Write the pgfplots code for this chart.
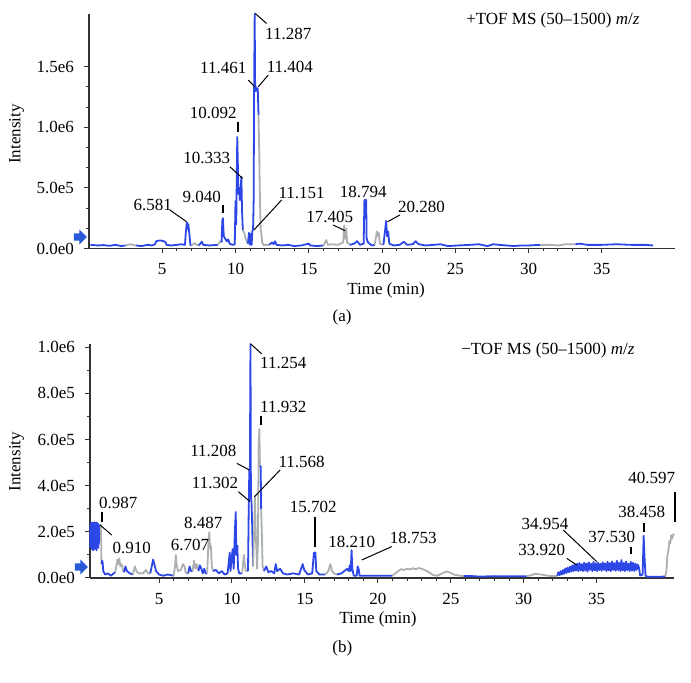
\documentclass[border=0pt]{standalone}
\usepackage{fontspec}
\setmainfont{Liberation Serif}
\usepackage{pgfplots}
\pgfplotsset{compat=1.18}
\usetikzlibrary{shapes.arrows}
\definecolor{trblue}{RGB}{45,70,230}
\definecolor{trgray}{RGB}{172,176,176}
\definecolor{arrblue}{RGB}{40,90,215}
\newcommand{\fs}{\fontsize{8.5}{10}\selectfont}
\tikzset{
  bl/.style={trblue, line width=0.9pt, line join=round},
  gr/.style={trgray, line width=0.9pt, line join=round},
  plab/.style={font=\fs, inner sep=0pt},
  plead/.style={black, line width=0.5pt},
  pdash/.style={black, line width=0.9pt},
  arrmark/.style={single arrow, fill=arrblue, draw=none, inner sep=1.6pt,
    single arrow head extend=1.9pt, minimum height=6.5pt, anchor=tip, xshift=-0.8pt},
}
\pgfplotsset{
  chrom/.style={
    scale only axis,
    anchor=south west,
    axis lines*=left,
    axis line style={line width=0.9pt, black!80},
    tick align=outside,
    major tick length=2.5pt,
    minor tick length=1.5pt,
    tick style={line width=0.5pt, black!80},
    xtick={5,10,...,35},
    minor x tick num=4,
    /pgf/number format/assume math mode=true,
    tick label style={font=\fs},
    label style={font=\fs},
    xticklabel style={yshift=-1.5pt},
    yticklabel style={xshift=-1.5pt},
    clip=false,
  },
}
\begin{document}
\begin{tikzpicture}
\path[use as bounding box] (0,0) rectangle (345.5pt,341.5pt);
% ---------------- (a) positive mode ----------------
\begin{axis}[chrom,
  at={(44.5pt,217.25pt)}, width=293pt, height=117.25pt,
  xmin=0, xmax=40, ymin=0, ymax=19.35,
  ytick={0,5,10,15}, yticklabels={0.0e0,5.0e5,1.0e6,1.5e6},
  minor y tick num=2,
  xlabel={Time (min)}, ylabel={Intensity},
  xlabel style={at={(axis description cs:0.507,-0.177)}, anchor=center},
  ylabel style={at={(axis description cs:-0.1234,0.488)}, anchor=center},
]
\addplot[bl] coordinates {(0.1,0.3)(0.6,0.25)(1.0,0.28)(1.4,0.22)(1.8,0.3)(2.2,0.2)(2.5,0.25)};
\addplot[gr] coordinates {(2.5,0.25)(2.8,0.35)(3.0,0.3)(3.2,0.25)};
\addplot[bl] coordinates {(3.2,0.25)(3.6,0.2)(4.0,0.3)(4.3,0.25)(4.5,0.35)(4.6,0.6)(4.8,0.66)(5.0,0.64)(5.2,0.55)(5.3,0.3)(5.6,0.25)(6.0,0.3)(6.3,0.35)(6.55,0.3)(6.62,1.5)(6.68,2.15)(6.72,1.6)(6.78,2.0)(6.85,1.2)(6.92,0.3)(7.0,0.25)};
\addplot[gr] coordinates {(7.0,0.25)(7.2,0.45)(7.35,0.3)(7.5,0.25)};
\addplot[bl] coordinates {(7.5,0.25)(7.7,0.55)(7.8,0.3)(8.2,0.25)(8.8,0.3)};
\addplot[gr] coordinates {(8.8,0.3)(8.95,0.6)(9.05,0.5)};
\addplot[bl] coordinates {(9.05,0.5)(9.1,2.3)(9.14,2.5)(9.2,1.0)(9.3,0.8)(9.4,0.6)(9.5,0.75)(9.6,0.4)(9.8,0.3)(9.95,0.35)(10.0,3.9)(10.05,2.0)(10.12,9.2)(10.16,7.0)(10.2,4.5)(10.25,5.0)(10.3,4.0)(10.4,5.9)(10.45,3.0)(10.5,1.5)};
\addplot[gr] coordinates {(10.5,1.5)(10.6,1.3)(10.7,0.8)(10.8,0.5)(10.85,0.4)};
\addplot[bl] coordinates {(10.85,0.4)(10.92,1.3)(10.98,0.3)(11.05,1.2)(11.1,0.3)(11.15,1.4)(11.2,1.6)(11.24,4.0)(11.27,13.0)(11.31,19.35)(11.34,13.3)(11.38,13.0)(11.42,13.3)(11.47,13.0)(11.52,13.2)(11.57,11.0)};
\addplot[gr] coordinates {(11.57,11.0)(11.62,8.0)(11.67,4.0)(11.72,1.5)(11.77,1.2)(11.82,0.5)(11.9,0.3)(12.3,0.3)};
\addplot[bl] coordinates {(12.3,0.3)(12.5,0.5)(12.6,0.35)(12.7,0.6)(12.8,0.3)(13.2,0.25)(13.6,0.3)(14.0,0.2)(14.5,0.25)(15.0,0.4)(15.1,0.25)(15.6,0.2)(16.0,0.25)};
\addplot[gr] coordinates {(16.0,0.25)(16.2,0.7)(16.3,0.3)(16.6,0.35)(17.0,0.3)(17.35,0.5)(17.42,1.9)(17.48,0.8)(17.55,1.65)(17.62,0.5)(17.8,0.3)};
\addplot[bl] coordinates {(17.8,0.3)(18.1,0.4)(18.3,0.6)(18.5,0.3)(18.75,0.4)(18.8,4.0)(18.92,4.0)(18.95,0.8)(19.05,0.5)(19.3,0.25)(19.5,0.3)};
\addplot[gr] coordinates {(19.5,0.3)(19.65,1.4)(19.72,1.0)(19.78,1.3)(19.85,0.4)(20.1,0.3)};
\addplot[bl] coordinates {(20.1,0.3)(20.28,2.27)(20.35,1.0)(20.42,1.4)(20.5,0.4)(20.8,0.25)(21.2,0.3)(21.5,0.55)(21.7,0.3)(22.1,0.35)(22.3,0.6)(22.5,0.35)(23,0.25)(23.5,0.3)(24.0,0.35)(24.5,0.2)(25.2,0.25)(26,0.3)(26.6,0.35)(27.2,0.2)(27.6,0.35)(28,0.3)(28.5,0.25)(29,0.2)(29.5,0.25)(30,0.25)(30.8,0.3)};
\addplot[gr] coordinates {(30.8,0.3)(31.5,0.3)(32,0.25)(32.5,0.35)(33.2,0.35)};
\addplot[bl] coordinates {(33.2,0.35)(33.5,0.4)(34,0.3)(35,0.3)(36,0.35)(37,0.3)(38,0.3)(38.5,0.25)};
% annotations
\node[plab] at (axis cs:4.36,3.59) {6.581};
\draw[plead] (axis cs:5.52,3.17) -- (axis cs:6.66,2.21);
\node[plab] at (axis cs:7.69,4.27) {9.040};
\draw[pdash] (axis cs:9.12,3.59) -- (axis cs:9.12,2.9);
\node[plab] at (axis cs:8.48,11.15) {10.092};
\draw[pdash] (axis cs:10.16,10.45) -- (axis cs:10.16,9.63);
\node[plab] at (axis cs:8.03,7.44) {10.333};
\draw[plead] (axis cs:9.62,6.74) -- (axis cs:10.48,5.79);
\node[plab] at (axis cs:14.51,4.55) {11.151};
\draw[plead] (axis cs:13.15,4.0) -- (axis cs:11.26,1.53);
\node[plab] at (axis cs:13.6,17.74) {11.287};
\draw[plead] (axis cs:11.34,19.4) -- (axis cs:12.12,18.57);
\node[plab] at (axis cs:9.16,14.86) {11.461};
\draw[plead] (axis cs:10.87,13.9) -- (axis cs:11.32,13.34);
\node[plab] at (axis cs:13.71,14.99) {11.404};
\draw[plead] (axis cs:12.23,14.3) -- (axis cs:11.55,13.34);
\node[plab] at (axis cs:16.44,2.62) {17.405};
\draw[plead] (axis cs:16.67,1.94) -- (axis cs:17.47,1.47);
\node[plab] at (axis cs:18.72,4.68) {18.794};
\node[plab] at (axis cs:22.7,3.45) {20.280};
\draw[plead] (axis cs:21.22,2.76) -- (axis cs:20.38,2.21);
\node[plab, anchor=east] at (axis description cs:0.940,0.974) {+TOF MS (50–1500) \textit{m}/\textit{z}};
\node[plab] at (axis description cs:0.432,-0.296) {(a)};
\node[arrmark] at (axis description cs:0,0.049) {};
\end{axis}
% ---------------- (b) negative mode ----------------
\begin{axis}[chrom,
  at={(45pt,52.5pt)}, width=292pt, height=117pt,
  xmin=0.27, xmax=40.3, ymin=0, ymax=10.14,
  ytick={0,2,4,6,8,10}, yticklabels={0.0e0,2.0e5,4.0e5,6.0e5,8.0e5,1.0e6},
  minor y tick num=1,
  xlabel={Time (min)}, ylabel={Intensity},
  xlabel style={at={(axis description cs:0.493,-0.179)}, anchor=center},
  ylabel style={at={(axis description cs:-0.1255,0.497)}, anchor=center},
]
\addplot[bl] coordinates {(0.28,1.3)(0.30,2.3)(0.32,1.4)(0.34,2.4)(0.36,1.3)(0.38,2.35)(0.40,1.25)(0.42,2.4)(0.44,1.35)(0.46,2.3)(0.48,1.2)(0.50,2.4)(0.52,1.3)(0.54,2.35)(0.56,1.4)(0.58,2.4)(0.60,1.25)(0.62,2.3)(0.64,1.35)(0.66,2.4)(0.68,1.3)(0.70,2.35)(0.72,1.2)(0.74,2.4)(0.76,1.35)(0.78,2.3)(0.80,1.4)(0.82,2.35)(0.84,1.3)(0.86,2.3)(0.88,1.5)(0.90,2.25)(0.92,1.6)(0.94,2.2)(0.96,1.8)(0.98,2.3)(1.00,2.3)};
\addplot[gr] coordinates {(1.0,2.3)(1.03,1.8)(1.05,0.8)(1.07,0.6)};
\addplot[bl] coordinates {(1.07,0.6)(1.1,0.75)(1.13,0.7)(1.18,0.3)(1.3,0.15)(1.5,0.2)(1.7,0.1)(1.9,0.2)(2.0,0.25)};
\addplot[gr] coordinates {(2.0,0.25)(2.15,0.8)(2.2,0.6)(2.28,0.85)(2.35,0.5)(2.45,0.6)(2.55,0.3)(2.6,0.25)};
\addplot[bl] coordinates {(2.6,0.25)(2.7,0.5)(2.8,0.3)(3.0,0.2)(3.2,0.15)};
\addplot[gr] coordinates {(3.2,0.15)(3.35,0.5)(3.45,0.3)(3.6,0.2)(3.9,0.2)(4.1,0.35)(4.25,0.2)(4.4,0.2)};
\addplot[bl] coordinates {(4.4,0.2)(4.5,0.5)(4.6,0.8)(4.7,0.55)(4.8,0.3)(5.0,0.15)(5.3,0.1)(5.6,0.15)(6.0,0.1)};
\addplot[gr] coordinates {(6.0,0.1)(6.1,0.5)(6.15,1.0)(6.2,0.6)(6.3,0.3)(6.5,0.35)(6.65,0.6)(6.75,0.5)(6.85,0.2)(7.0,0.2)};
\addplot[bl] coordinates {(7.0,0.2)(7.1,0.5)(7.2,0.3)(7.3,0.3)};
\addplot[gr] coordinates {(7.3,0.3)(7.4,0.75)(7.5,0.4)(7.6,0.6)(7.7,0.3)};
\addplot[bl] coordinates {(7.7,0.3)(7.8,0.55)(7.9,0.4)(8.0,0.2)(8.1,0.4)(8.2,0.2)(8.3,0.2)};
\addplot[gr] coordinates {(8.3,0.2)(8.38,1.4)(8.45,1.98)(8.5,1.3)(8.55,1.4)(8.62,0.5)(8.7,0.3)};
\addplot[bl] coordinates {(8.7,0.3)(8.9,0.35)(9.1,0.2)(9.3,0.3)(9.5,0.15)(9.7,0.2)(9.85,1.1)(9.9,0.3)(10.0,1.0)(10.05,1.25)(10.12,0.4)(10.2,2.0)(10.26,2.86)(10.3,1.0)(10.37,1.4)(10.42,0.4)(10.5,0.2)(10.7,0.2)};
\addplot[gr] coordinates {(10.7,0.2)(10.82,1.0)(10.88,0.6)(10.95,0.3)(11.05,0.3)(11.1,0.3)};
\addplot[bl] coordinates {(11.1,0.3)(11.15,3.0)(11.19,4.7)(11.22,3.5)(11.27,10.14)(11.3,3.5)(11.34,3.3)(11.38,2.5)(11.45,0.5)};
\addplot[gr] coordinates {(11.45,0.5)(11.52,2.0)(11.58,3.5)(11.63,1.9)(11.68,1.2)(11.72,0.4)(11.78,1.5)(11.83,5.7)(11.88,6.45)(11.92,4.8)};
\addplot[bl] coordinates {(11.92,4.8)(11.97,4.84)(12.0,3.0)};
\addplot[gr] coordinates {(12.0,3.0)(12.05,1.9)(12.1,0.5)(12.2,0.3)};
\addplot[bl] coordinates {(12.2,0.3)(12.35,0.5)(12.5,0.25)(12.7,0.3)(12.9,0.2)(13.0,0.6)(13.1,0.3)(13.3,0.4)(13.5,0.2)(13.8,0.15)(14.2,0.2)(14.6,0.15)(14.85,0.6)(14.95,0.35)(15.2,0.15)(15.5,0.2)(15.62,1.1)(15.72,1.1)(15.78,0.3)(16.0,0.15)(16.4,0.15)};
\addplot[gr] coordinates {(16.4,0.15)(16.6,0.3)(16.75,0.6)(16.85,0.3)(17.0,0.2)(17.2,0.15)};
\addplot[bl] coordinates {(17.2,0.15)(17.5,0.2)(17.9,0.4)(18.0,0.3)(18.08,0.55)(18.14,0.3)(18.2,1.2)(18.25,0.4)(18.35,0.1)(18.55,0.1)(18.62,0.5)(18.68,0.4)(18.75,0.1)(19.0,0.1)(20.0,0.1)(21.0,0.1)};
\addplot[gr] coordinates {(21.0,0.1)(21.2,0.2)(21.4,0.3)(21.6,0.38)(21.8,0.35)(22.0,0.4)(22.2,0.37)(22.4,0.42)(22.6,0.38)(22.8,0.43)(23.0,0.4)(23.2,0.35)(23.5,0.25)(23.8,0.12)(24.1,0.1)(24.4,0.2)(24.7,0.28)(24.9,0.25)(25.2,0.15)(25.6,0.1)(25.9,0.08)};
\addplot[bl] coordinates {(25.9,0.08)(26.5,0.08)(27,0.06)(28,0.08)(29,0.07)(30.2,0.08)};
\addplot[gr] coordinates {(30.2,0.08)(30.5,0.12)(30.8,0.18)(31.2,0.15)(31.6,0.1)(32.0,0.08)(32.3,0.08)};
\addplot[bl] coordinates {(32.30,0.10)(32.38,0.25)(32.46,0.12)(32.54,0.30)(32.62,0.15)(32.70,0.35)(32.78,0.18)(32.86,0.42)(32.94,0.22)(33.02,0.45)(33.10,0.25)(33.18,0.50)(33.26,0.28)(33.34,0.55)(33.42,0.30)(33.50,0.60)(33.58,0.32)(33.66,0.62)(33.74,0.30)(33.82,0.65)(33.90,0.33)(33.98,0.60)(34.06,0.30)(34.14,0.66)(34.22,0.32)(34.30,0.63)(34.38,0.28)(34.46,0.68)(34.54,0.35)(34.62,0.62)(34.70,0.30)(34.78,0.70)(34.86,0.33)(34.94,0.64)(35.02,0.30)(35.10,0.66)(35.18,0.34)(35.26,0.62)(35.34,0.31)(35.42,0.68)(35.50,0.35)(35.58,0.63)(35.66,0.30)(35.74,0.70)(35.82,0.33)(35.90,0.65)(35.98,0.30)(36.06,0.72)(36.14,0.35)(36.22,0.64)(36.30,0.31)(36.38,0.75)(36.46,0.34)(36.54,0.66)(36.62,0.30)(36.70,0.78)(36.78,0.33)(36.86,0.65)(36.94,0.30)(37.02,0.72)(37.10,0.34)(37.18,0.62)(37.26,0.30)(37.34,0.70)(37.42,0.32)(37.50,0.66)(37.58,0.30)(37.66,0.62)(37.74,0.35)(37.82,0.58)(37.90,0.45)(37.98,0.1)(38.15,0.15)(38.22,1.83)(38.28,0.9)(38.35,0.1)(38.5,0.05)(39.0,0.05)(39.6,0.06)(39.7,0.08)};
\addplot[gr] coordinates {(39.7,0.08)(39.78,0.3)(39.85,1.0)(39.92,1.2)(39.98,1.6)(40.05,1.5)(40.1,1.85)(40.18,1.7)(40.25,1.9)(40.3,1.85)};
% annotations
\node[plab] at (axis cs:2.21,3.24) {0.987};
\draw[pdash] (axis cs:1.08,2.87) -- (axis cs:1.08,2.44);
\node[plab] at (axis cs:3.13,1.29) {0.910};
\draw[plead] (axis cs:0.96,2.30) -- (axis cs:1.76,1.86);
\node[plab] at (axis cs:7.13,1.43) {6.707};
\node[plab] at (axis cs:8.04,2.37) {8.487};
\node[plab] at (axis cs:8.73,5.52) {11.208};
\draw[plead] (axis cs:10.33,4.97) -- (axis cs:11.19,4.68);
\node[plab] at (axis cs:8.84,4.13) {11.302};
\draw[plead] (axis cs:10.44,3.74) -- (axis cs:11.24,3.31);
\node[plab] at (axis cs:13.52,9.31) {11.254};
\draw[plead] (axis cs:11.29,10.14) -- (axis cs:12.04,9.71);
\node[plab] at (axis cs:13.52,7.43) {11.932};
\draw[pdash] (axis cs:11.97,7.02) -- (axis cs:11.97,6.63);
\node[plab] at (axis cs:14.78,5.04) {11.568};
\draw[plead] (axis cs:13.3,4.68) -- (axis cs:11.54,3.52);
\node[plab] at (axis cs:15.58,3.09) {15.702};
\draw[plead, line width=0.7pt] (axis cs:15.7,2.66) -- (axis cs:15.7,1.36);
\node[plab] at (axis cs:18.21,1.57) {18.210};
\node[plab] at (axis cs:22.43,1.72) {18.753};
\draw[plead] (axis cs:20.95,1.36) -- (axis cs:18.9,0.78);
\node[plab] at (axis cs:31.23,1.21) {33.920};
\draw[plead] (axis cs:32.95,0.85) -- (axis cs:33.63,0.56);
\node[plab] at (axis cs:31.46,2.34) {34.954};
\draw[plead] (axis cs:32.71,2.08) -- (axis cs:35.0,0.71);
\node[plab] at (axis cs:36.03,1.79) {37.530};
\draw[pdash] (axis cs:37.35,1.36) -- (axis cs:37.35,1.04);
\node[plab] at (axis cs:38.09,2.87) {38.458};
\draw[pdash] (axis cs:38.25,2.37) -- (axis cs:38.25,2.0);
\node[plab] at (axis cs:38.77,4.32) {40.597};
\draw[plead, line width=0.7pt] (axis cs:40.37,3.74) -- (axis cs:40.37,2.44);
\node[plab, anchor=east] at (axis description cs:0.933,0.971) {−TOF MS (50–1500) \textit{m}/\textit{z}};
\node[plab] at (axis description cs:0.432,-0.299) {(b)};
\node[arrmark] at (axis description cs:0,0.047) {};
\end{axis}
\end{tikzpicture}
\end{document}
